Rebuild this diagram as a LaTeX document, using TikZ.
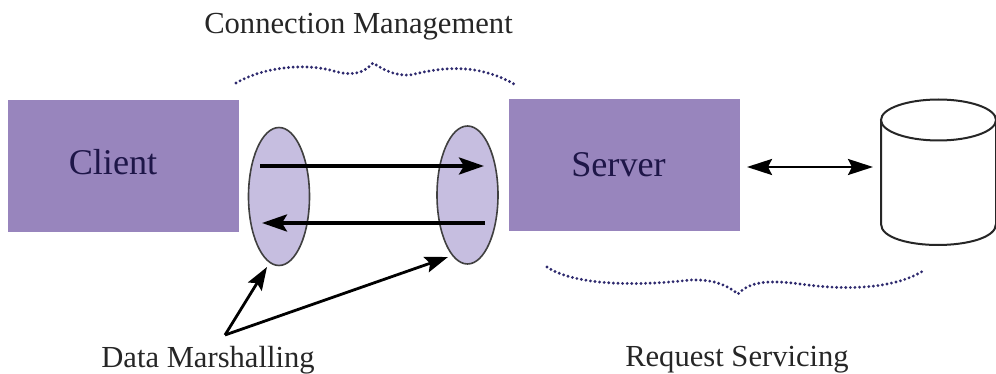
\documentclass[tikz,border=0pt]{standalone}
\usepackage{fontspec}
\setmainfont{Liberation Serif}
\usetikzlibrary{arrows.meta,shapes.geometric}
\definecolor{boxfill}{HTML}{9885BD}
\definecolor{ovalfill}{HTML}{C6BEE0}
\definecolor{inktext}{HTML}{1E1648}
\definecolor{dotink}{HTML}{2E2A6E}
\tikzset{
  x=1pt,y=-1pt,
  purplebox/.style={fill=boxfill,draw=none,minimum width=231pt,minimum height=132pt,inner sep=0pt},
  boxlabel/.style={inner sep=0pt,text=inktext,font=\fontsize{36.2}{40}\selectfont},
  oval/.style={ellipse,fill=ovalfill,draw=black!75,line width=1.6pt,minimum width=61pt,minimum height=138pt,inner sep=0pt},
  flow/.style={line width=3.6pt,-{Stealth[length=25pt,width=17pt,inset=5pt]}},
  pointer/.style={line width=2.8pt,-{Stealth[length=23pt,width=16pt,inset=4pt]}},
  both/.style={line width=2.6pt,{Stealth[length=25pt,width=16pt,inset=4pt]}-{Stealth[length=25pt,width=16pt,inset=4pt]}},
  brace/.style={dotink,line width=3.2pt,line cap=round,dash pattern=on 0pt off 4.6pt},
  caption/.style={inner sep=0pt,text=black!85,font=\fontsize{30.6}{34}\selectfont},
  dbline/.style={black!85,line width=2pt,fill=white},
}
\begin{document}
\begin{tikzpicture}
\useasboundingbox (0,0) rectangle (996,374);
\node[purplebox] (client) at (123.5,166) {};
\node[purplebox] (server) at (624.5,165) {};
\node[boxlabel,anchor=base] (clientlabel) at (113,175) {Client};
\node[boxlabel,anchor=base] (serverlabel) at (618.5,176.5) {Server};
\node[oval] (ovalL) at (279,196.5) {};
\node[oval] (ovalR) at (467.5,195) {};
\coordinate (t1) at (260,166);
\coordinate (t2) at (484,166);
\coordinate (b1) at (485,223);
\coordinate (b2) at (262,223);
\draw[flow] (t1) -- (t2);
\draw[flow] (b1) -- (b2);
% database
\coordinate (dbin) at (873,167);
\coordinate (dbout) at (747,167);
\draw[dbline]
  (881,120) -- (881,224) .. controls (881,238) and (910,245) .. (938,245)
  .. controls (966,245) and (996,238) .. (996,224) -- (996,120);
\draw[dbline] (938.5,120) ellipse [x radius=57.5, y radius=20.5];
\draw[both] (dbout) -- (dbin);
% dotted braces
\draw[brace] (236,83) .. controls (262,68) and (300,63) .. (330,70)
  .. controls (350,76) and (362,75) .. (373,63)
  .. controls (384,70) and (395,76) .. (410,75)
  .. controls (440,68) and (475,62) .. (514,84);
\draw[brace] (547,267) .. controls (575,286) and (640,286) .. (690,280)
  .. controls (715,279) and (728,286) .. (738,294)
  .. controls (750,281) and (770,280) .. (800,284)
  .. controls (850,291) and (895,288) .. (923,271);
% labels
\node[caption,anchor=base] (cm) at (358.5,34) {Connection Management};
\node[caption,anchor=base] (dm) at (208,367) {Data Marshalling};
\node[caption,anchor=base] (rs) at (737,366) {Request Servicing};
\coordinate (fork) at (225,335);
\coordinate (pl) at (267,267);
\coordinate (pr) at (448,257);
\draw[pointer] (fork) -- (pl);
\draw[pointer] (fork) -- (pr);
\end{tikzpicture}
\end{document}
